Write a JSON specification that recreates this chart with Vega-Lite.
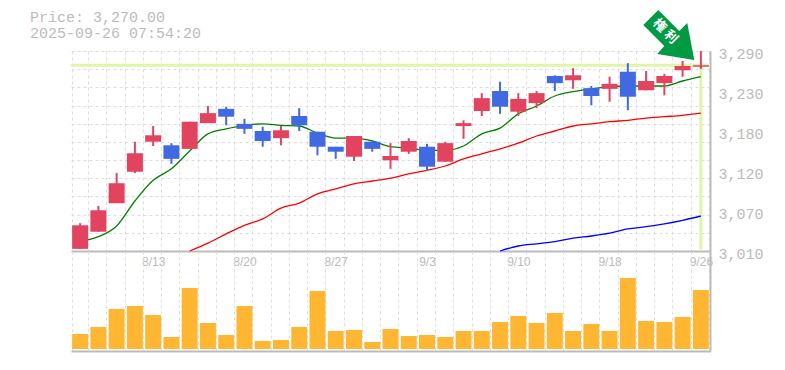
{
"$schema":"https://vega.github.io/schema/vega-lite/v6.json",
"background":"white",
"padding":{"left":30,"top":9,"right":10,"bottom":10},
"bounds":"flush",
"spacing":0,
"title":{"text":["Price: 3,270.00","2025-09-26 07:54:20"],"anchor":"start","frame":"group","font":"Liberation Mono","fontSize":15,"fontWeight":"normal","color":"#bbbbbb","lineHeight":16,"dx":-41,"offset":-31},
"config":{"view":{"stroke":null},"axis":{"gridColor":"#dddddd","gridDash":[3,3],"gridWidth":1,"domainColor":"#bbbbbb","domainWidth":2,"ticks":false,"title":null}},
"datasets":{"d":[
{"date":"8/6","high":3049,"low":3013,"open":3013,"close":3046,"vol":15000,"ma1":3023},
{"date":"8/7","high":3073,"low":3037,"open":3037,"close":3067,"vol":22000,"ma1":3030},
{"date":"8/8","high":3119,"low":3077,"open":3077,"close":3105,"vol":40000,"ma1":3045},
{"date":"8/12","high":3163,"low":3119,"open":3121,"close":3147,"vol":43000,"ma1":3080},
{"date":"8/13","high":3185,"low":3157,"open":3163,"close":3172,"vol":34000,"ma1":3109},
{"date":"8/14","high":3161,"low":3132,"open":3158,"close":3139,"vol":12000,"ma1":3125},
{"date":"8/15","high":3191,"low":3153,"open":3153,"close":3191,"vol":61000,"ma1":3150,"ma2":3010},
{"date":"8/18","high":3213,"low":3189,"open":3189,"close":3203,"vol":26000,"ma1":3174,"ma2":3021},
{"date":"8/19","high":3212,"low":3186,"open":3209,"close":3198,"vol":14000,"ma1":3181,"ma2":3034},
{"date":"8/20","high":3195,"low":3174,"open":3188,"close":3181,"vol":43000,"ma1":3186,"ma2":3046},
{"date":"8/21","high":3184,"low":3156,"open":3178,"close":3164,"vol":8000,"ma1":3188,"ma2":3055},
{"date":"8/22","high":3185,"low":3158,"open":3168,"close":3179,"vol":9000,"ma1":3186,"ma2":3070},
{"date":"8/25","high":3210,"low":3178,"open":3199,"close":3186,"vol":22000,"ma1":3185,"ma2":3077},
{"date":"8/26","high":3177,"low":3144,"open":3177,"close":3156,"vol":58000,"ma1":3175,"ma2":3090},
{"date":"8/27","high":3156,"low":3139,"open":3156,"close":3149,"vol":18000,"ma1":3168,"ma2":3097},
{"date":"8/28","high":3171,"low":3136,"open":3142,"close":3171,"vol":19000,"ma1":3168,"ma2":3104},
{"date":"8/29","high":3163,"low":3149,"open":3163,"close":3153,"vol":7000,"ma1":3164,"ma2":3108},
{"date":"9/1","high":3161,"low":3125,"open":3137,"close":3143,"vol":20000,"ma1":3156,"ma2":3112},
{"date":"9/2","high":3168,"low":3146,"open":3149,"close":3164,"vol":13000,"ma1":3154,"ma2":3118},
{"date":"9/3","high":3160,"low":3122,"open":3156,"close":3128,"vol":14000,"ma1":3151,"ma2":3123},
{"date":"9/4","high":3163,"low":3135,"open":3135,"close":3161,"vol":12000,"ma1":3151,"ma2":3129},
{"date":"9/5","high":3193,"low":3167,"open":3185,"close":3189,"vol":18000,"ma1":3157,"ma2":3139},
{"date":"9/8","high":3231,"low":3199,"open":3206,"close":3224,"vol":18000,"ma1":3174,"ma2":3146},
{"date":"9/9","high":3247,"low":3202,"open":3234,"close":3212,"vol":27000,"ma1":3182,"ma2":3153,"ma3":3010},
{"date":"9/10","high":3231,"low":3199,"open":3205,"close":3223,"vol":33000,"ma1":3202,"ma2":3161,"ma3":3017},
{"date":"9/11","high":3234,"low":3210,"open":3217,"close":3231,"vol":26000,"ma1":3213,"ma2":3171,"ma3":3020},
{"date":"9/12","high":3256,"low":3234,"open":3255,"close":3245,"vol":36000,"ma1":3227,"ma2":3178,"ma3":3023},
{"date":"9/16","high":3266,"low":3237,"open":3249,"close":3256,"vol":18000,"ma1":3233,"ma2":3185,"ma3":3028},
{"date":"9/17","high":3241,"low":3214,"open":3238,"close":3227,"vol":25000,"ma1":3237,"ma2":3188,"ma3":3031},
{"date":"9/18","high":3254,"low":3219,"open":3237,"close":3244,"vol":18000,"ma1":3240,"ma2":3191,"ma3":3035},
{"date":"9/19","high":3273,"low":3207,"open":3261,"close":3226,"vol":71000,"ma1":3241,"ma2":3193,"ma3":3041},
{"date":"9/22","high":3262,"low":3235,"open":3235,"close":3248,"vol":28000,"ma1":3241,"ma2":3196,"ma3":3044},
{"date":"9/24","high":3258,"low":3228,"open":3245,"close":3255,"vol":27000,"ma1":3241,"ma2":3198,"ma3":3048},
{"date":"9/25","high":3276,"low":3254,"open":3263,"close":3269,"vol":32000,"ma1":3248,"ma2":3200,"ma3":3053},
{"date":"9/26","high":3290,"low":3265,"open":3268,"close":3270,"vol":59000,"ma1":3254,"ma2":3203,"ma3":3059}
]},
"vconcat":[
{
"width":639,"height":200,
"data":{"name":"d"},
"encoding":{
"x":{"field":"date","type":"ordinal","sort":null,"scale":{"domain":["8/6","8/7","8/8","8/12","8/13","8/14","8/15","8/18","8/19","8/20","8/21","8/22","8/25","8/26","8/27","8/28","8/29","9/1","9/2","9/3","9/4","9/5","9/8","9/9","9/10","9/11","9/12","9/16","9/17","9/18","9/19","9/22","9/24","9/25","9/26"],"paddingInner":0.124,"paddingOuter":0.062},
"axis":{"tickBand":"extent","grid":true,"labelAngle":0,"labelFont":"Liberation Sans","labelFontSize":12,"labelColor":"#bbbbbb","labelPadding":5,"labelOffset":0,"labelOverlap":false,"domain":true,"labelExpr":"indexof(['8/13','8/20','8/27','9/3','9/10','9/18','9/26'],datum.label)>=0?datum.label:''"}}
},
"layer":[
{"mark":{"type":"rule","color":"#e0f5a8","strokeWidth":3},
 "data":{"values":[{"price":3270}]},
 "encoding":{"x":null,"y":{"field":"price","type":"quantitative","scale":{"domain":[3010,3290],"nice":false,"zero":false},
 "axis":{"orient":"left","grid":true,"labels":false,"domain":false,"values":[3010,3035.45,3060.91,3086.36,3111.82,3137.27,3162.73,3188.18,3213.64,3239.09,3264.55,3290]}}}},
{"mark":{"type":"rule","color":"#e0f5a8","strokeWidth":3},
 "transform":[{"filter":"datum.date=='9/26'"},{"calculate":"3012","as":"bottom"}],
 "encoding":{"y":{"field":"close","type":"quantitative","axis":{"orient":"right","grid":false,"domain":true,"values":[3010,3066,3122,3178,3234,3290],"labelExpr":"format(round(datum.value/10)*10,',')","labelFont":"Liberation Mono","labelFontSize":15,"labelColor":"#bbbbbb","labelPadding":8,"labelOffset":2}},"y2":{"field":"bottom"}}},
{"mark":{"type":"line","color":"#008000","strokeWidth":1.3,"interpolate":"monotone"},"encoding":{"y":{"field":"ma1","type":"quantitative","axis":null}}},
{"mark":{"type":"line","color":"#ff0000","strokeWidth":1.3,"interpolate":"monotone"},"encoding":{"y":{"field":"ma2","type":"quantitative","axis":null}}},
{"mark":{"type":"line","color":"#0000ff","strokeWidth":1.3,"interpolate":"monotone"},"encoding":{"y":{"field":"ma3","type":"quantitative","axis":null}}},
{"mark":{"type":"rule","strokeWidth":2},"encoding":{"y":{"field":"high","type":"quantitative","axis":null},"y2":{"field":"low"},
 "color":{"condition":{"test":"datum.close>=datum.open","value":"#e2435f"},"value":"#4169e1"}}},
{"mark":{"type":"bar","width":{"band":1}},"encoding":{"y":{"field":"open","type":"quantitative","axis":null},"y2":{"field":"close"},
 "color":{"condition":{"test":"datum.close>=datum.open","value":"#e2435f"},"value":"#4169e1"}}},
{"mark":{"type":"point","filled":true,"opacity":1,"color":"#009a44","size":4,"clip":false,"shape":"M-42.6,-55.3L-21.6,-34.3L-13.6,-42.3L-6.6,-5.3L-43.6,-11.3L-36.6,-19.3L-57.6,-40.3Z"},
 "transform":[{"filter":"datum.date=='9/26'"}],
 "encoding":{"y":{"field":"close","type":"quantitative","axis":null}}},
{"mark":{"type":"text","text":"権 利","font":"Noto Sans CJK JP","fontWeight":"bold","fontSize":13,"color":"white","angle":45,"dx":-49.2,"dy":1.1,"align":"center","baseline":"middle"},
 "transform":[{"filter":"datum.date=='9/26'"}],
 "encoding":{"y":{"field":"close","type":"quantitative","axis":null}}}
],
"resolve":{"axis":{"y":"independent"}}
},
{
"width":639,"height":100,
"data":{"name":"d"},
"layer":[
{"mark":{"type":"bar","color":"#ffb733","width":{"band":1}},
 "encoding":{
 "x":{"field":"date","type":"ordinal","sort":null,"scale":{"paddingInner":0.124,"paddingOuter":0.062},"axis":{"tickBand":"extent","grid":true,"labels":false,"domain":true}},
 "y":{"field":"vol","type":"quantitative","scale":{"domain":[-2000,98000],"nice":false,"zero":false},"axis":{"orient":"right","grid":false,"labels":false,"domain":true}}
 }}
]
}
]
}
